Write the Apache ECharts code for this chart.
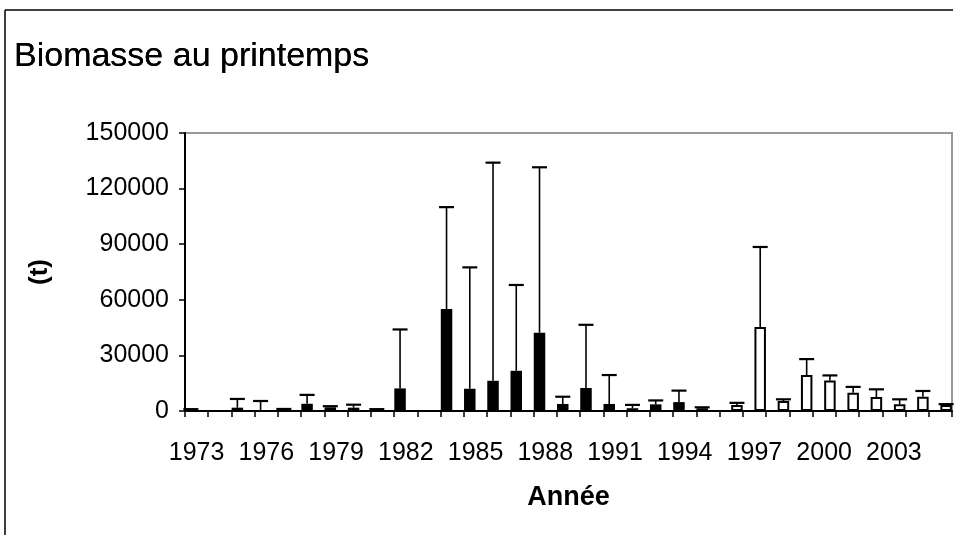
<!DOCTYPE html>
<html>
<head>
<meta charset="utf-8">
<script src="https://cdn.jsdelivr.net/npm/echarts@6/dist/echarts.min.js"></script>
<style>
html,body{margin:0;padding:0;background:#fff;}
#chart{width:956px;height:535px;}
</style>
</head>
<body>
<div id="chart"></div>
<script>
// Years (categories)
const years = ['1973','1974','1975','1976','1977','1978','1979','1980','1981','1982','1983','1984','1985','1986','1987','1988','1989','1990','1991','1992','1993','1994','1995','1996','1997','1998','1999','2000','2001','2002','2003','2004','2005'];
// Biomass (t), first period (black bars)
const biomassA = [800,null,1800,300,900,3900,2000,1800,900,12200,null,55000,12000,16300,21700,42200,3800,12400,3800,1500,3600,4800,1500,null,null,null,null,null,null,null,null,null,null];
// Upper error limit, first period
const upperA   = [1000,null,6500,5400,1100,8700,2600,3400,1000,44000,null,110000,77500,134000,68000,131500,7700,46500,19400,3300,5700,11000,2000,null,null,null,null,null,null,null,null,null,null];
// Biomass (t), second period (white bars)
const biomassB = [null,null,null,null,null,null,null,null,null,null,null,null,null,null,null,null,null,null,null,null,null,null,null,3200,45300,5400,19400,16500,9900,7500,3600,7700,3200];
// Upper error limit, second period
const upperB   = [null,null,null,null,null,null,null,null,null,null,null,null,null,null,null,null,null,null,null,null,null,null,null,4400,88500,6300,28000,19200,13000,11700,6300,10800,3700];
// Y ticks
const yMin = 0, yMax = 150000, yStep = 30000;

const BW = 11.5;
const FONT = '"Liberation Sans", Arial, sans-serif';

function errData(vals, ups){
  const out = [];
  vals.forEach((v,i)=>{ if(v!=null && ups[i]!=null) out.push([i, v, ups[i]]); });
  return out;
}
function makeErr(offset){
  return function(params, api){
    const i = api.value(0);
    const p0 = api.coord([i, api.value(1)]);
    const p1 = api.coord([i, api.value(2)]);
    const x = p0[0] + offset;
    const cap = 7.5;
    return {
      type:'group',
      children:[
        {type:'line', shape:{x1:x,y1:p0[1],x2:x,y2:p1[1]}, style:{stroke:'#000',lineWidth:1.6}},
        {type:'line', shape:{x1:x-cap,y1:p1[1],x2:x+cap,y2:p1[1]}, style:{stroke:'#000',lineWidth:2.2}}
      ]
    };
  };
}

const chart = echarts.init(document.getElementById('chart'), null, {renderer:'canvas'});
chart.setOption({
  backgroundColor:'#fff',
  animation:false,
  textStyle:{fontFamily:FONT},
  title:{
    text:'Biomasse au printemps', left:9, top:35,
    textStyle:{fontSize:34, fontWeight:'normal', color:'#000', fontFamily:FONT, textShadowColor:'#000', textShadowBlur:0.6}
  },
  graphic:[
    {type:'line', shape:{x1:5,y1:10,x2:953,y2:10}, style:{stroke:'#000',lineWidth:1.5}},
    {type:'line', shape:{x1:5,y1:10,x2:5,y2:535}, style:{stroke:'#000',lineWidth:1.5}}
  ],
  grid:{left:185, right:4, top:133, bottom:124, show:true, borderColor:'#999', borderWidth:2, backgroundColor:'transparent'},
  xAxis:{
    type:'category', data:years, boundaryGap:true,
    axisLine:{lineStyle:{color:'#000',width:2}},
    axisTick:{show:true, interval:0, alignWithLabel:false, length:6, lineStyle:{color:'#000',width:1.5}},
    axisLabel:{interval:2, fontSize:25, color:'#000', margin:30, fontFamily:FONT},
    name:'Année', nameLocation:'middle', nameGap:73,
    nameTextStyle:{fontSize:27, fontWeight:'bold', color:'#000', fontFamily:FONT}
  },
  yAxis:{
    type:'value', min:yMin, max:yMax, interval:yStep,
    axisLine:{show:true, lineStyle:{color:'#000',width:2}},
    axisTick:{show:true, length:6, lineStyle:{color:'#000',width:1.5}},
    splitLine:{show:false},
    axisLabel:{fontSize:25, color:'#000', margin:16, fontFamily:FONT, formatter:v=>String(v)},
    name:'(t)', nameLocation:'middle', nameGap:132, nameRotate:90,
    nameTextStyle:{fontSize:26, fontWeight:'bold', color:'#000', fontFamily:FONT}
  },
  series:[
    {type:'bar', data:biomassA, barWidth:BW, barGap:'0%', itemStyle:{color:'#000'}, z:2},
    {type:'bar', data:biomassB, barWidth:BW, barGap:'0%', itemStyle:{color:'#fff', borderColor:'#000', borderWidth:2}, z:2},
    {type:'custom', data:errData(biomassA, upperA), encode:{x:0,y:[1,2]}, renderItem:makeErr(-BW/2), z:3},
    {type:'custom', data:errData(biomassB, upperB), encode:{x:0,y:[1,2]}, renderItem:makeErr(BW/2), z:3}
  ]
});
</script>
</body>
</html>
